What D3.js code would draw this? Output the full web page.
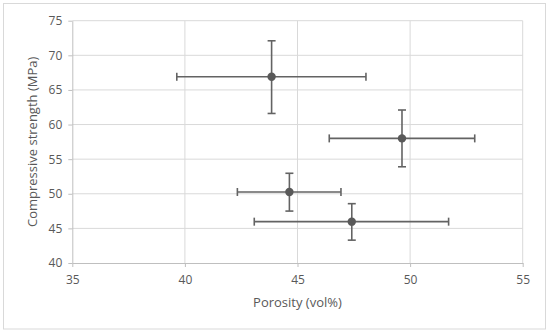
<!DOCTYPE html>
<html>
<head>
<meta charset="utf-8">
<script src="https://cdn.jsdelivr.net/npm/d3@7"></script>
<style>
  body { margin: 0; background: #fff; }
  .axis text { font-family: "Open Sans", "Noto Sans", sans-serif; font-size: 12px; fill: #595959; }
  .axis path, .axis line { stroke: #bfbfbf; }
</style>
</head>
<body>
<div id="my_dataviz"></div>
<script>
// data
var porosity = [43.85, 49.64, 44.64, 47.41];
var strength = [66.9, 58.0, 50.26, 45.97];
var porosityLow = [39.64, 46.41, 42.33, 43.08];
var porosityHigh = [48.04, 52.87, 46.93, 51.71];
var strengthLow = [61.6, 53.9, 47.5, 43.3];
var strengthHigh = [72.1, 62.1, 52.96, 48.57];
var xTicks = [35, 40, 45, 50, 55];
var yTicks = [40, 45, 50, 55, 60, 65, 70, 75];

var data = porosity.map(function(d, i) {
  return {x: d, y: strength[i], x0: porosityLow[i], x1: porosityHigh[i], y0: strengthLow[i], y1: strengthHigh[i]};
});

// dimensions
var W = 550, H = 333;
var margin = {top: 20.7, right: 27.3, bottom: 70, left: 72.3},
    width = W - margin.left - margin.right,
    height = H - margin.top - margin.bottom;

var root = d3.select("#my_dataviz")
  .append("svg")
    .attr("width", W)
    .attr("height", H);

// outer chart border
root.append("rect")
  .attr("x", 3.5).attr("y", 3.5)
  .attr("width", 542).attr("height", 325.5)
  .attr("fill", "#fff")
  .attr("stroke", "#d9d9d9");

var svg = root.append("g")
  .attr("transform", "translate(" + margin.left + "," + margin.top + ")");

var x = d3.scaleLinear().domain([35, 55]).range([0, width]);
var y = d3.scaleLinear().domain([40, 75]).range([height, 0]);

// gridlines
svg.selectAll("xGrid")
  .data(xTicks.slice(1))
  .join("line")
  .attr("x1", d => x(d)).attr("x2", d => x(d))
  .attr("y1", 0).attr("y2", height)
  .attr("stroke", "#d9d9d9").attr("stroke-width", 1);

svg.selectAll("yGrid")
  .data(yTicks.slice(1))
  .join("line")
  .attr("x1", 0).attr("x2", width)
  .attr("y1", d => y(d)).attr("y2", d => y(d))
  .attr("stroke", "#d9d9d9").attr("stroke-width", 1);

// axes
svg.append("g")
  .attr("class", "axis")
  .attr("transform", "translate(0," + height + ")")
  .call(d3.axisBottom(x).tickValues(xTicks).tickSize(4).tickPadding(6).tickSizeOuter(0))
  .call(g => g.selectAll("text").attr("dy", "0.9em"));

svg.append("g")
  .attr("class", "axis")
  .call(d3.axisLeft(y).tickValues(yTicks).tickSize(4).tickPadding(6).tickSizeOuter(0));

// axis titles
svg.append("text")
  .attr("x", width / 2)
  .attr("y", height + 44)
  .attr("text-anchor", "middle")
  .style("font-family", "'Open Sans', 'Noto Sans', sans-serif")
  .style("font-size", "13px")
  .attr("fill", "#595959")
  .text("Porosity (vol%)");

svg.append("text")
  .attr("transform", "translate(" + (-35) + "," + (height / 2) + ") rotate(-90)")
  .attr("text-anchor", "middle")
  .style("font-family", "'Open Sans', 'Noto Sans', sans-serif")
  .style("font-size", "13px")
  .attr("fill", "#595959")
  .text("Compressive strength (MPa)");

var barColor = "#636363", cap = 4;

var bars = svg.selectAll("errbar")
  .data(data)
  .join("g");

// horizontal error bars
bars.append("line")
  .attr("x1", d => x(d.x0)).attr("x2", d => x(d.x1))
  .attr("y1", d => y(d.y)).attr("y2", d => y(d.y))
  .attr("stroke", barColor).attr("stroke-width", 1.6);
bars.append("line")
  .attr("x1", d => x(d.x0)).attr("x2", d => x(d.x0))
  .attr("y1", d => y(d.y) - cap).attr("y2", d => y(d.y) + cap)
  .attr("stroke", barColor).attr("stroke-width", 1.6);
bars.append("line")
  .attr("x1", d => x(d.x1)).attr("x2", d => x(d.x1))
  .attr("y1", d => y(d.y) - cap).attr("y2", d => y(d.y) + cap)
  .attr("stroke", barColor).attr("stroke-width", 1.6);

// vertical error bars
bars.append("line")
  .attr("x1", d => x(d.x)).attr("x2", d => x(d.x))
  .attr("y1", d => y(d.y0)).attr("y2", d => y(d.y1))
  .attr("stroke", barColor).attr("stroke-width", 1.6);
bars.append("line")
  .attr("x1", d => x(d.x) - cap).attr("x2", d => x(d.x) + cap)
  .attr("y1", d => y(d.y0)).attr("y2", d => y(d.y0))
  .attr("stroke", barColor).attr("stroke-width", 1.6);
bars.append("line")
  .attr("x1", d => x(d.x) - cap).attr("x2", d => x(d.x) + cap)
  .attr("y1", d => y(d.y1)).attr("y2", d => y(d.y1))
  .attr("stroke", barColor).attr("stroke-width", 1.6);

// markers
svg.selectAll("dot")
  .data(data)
  .join("circle")
  .attr("cx", d => x(d.x))
  .attr("cy", d => y(d.y))
  .attr("r", 4.2)
  .attr("fill", "#595959");
</script>
</body>
</html>
